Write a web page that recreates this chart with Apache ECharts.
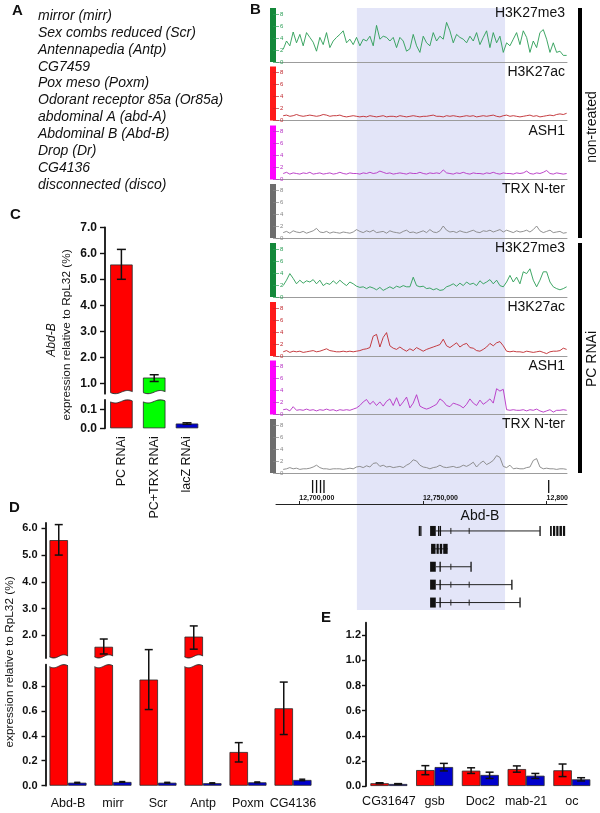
<!DOCTYPE html>
<html><head><meta charset="utf-8">
<script src="https://cdn.jsdelivr.net/npm/echarts@6/dist/echarts.min.js"></script>
<style>html,body{margin:0;padding:0;background:#fff}#c{width:600px;height:813px}</style>
</head><body><div id="c"></div>
<script>
// ---------------- DATA ----------------
const geneList = ['mirror (mirr)','Sex combs reduced (Scr)','Antennapedia (Antp)','CG7459','Pox meso (Poxm)',
  'Odorant receptor 85a (Or85a)','abdominal A (abd-A)','Abdominal B (Abd-B)','Drop (Dr)','CG4136','disconnected (disco)'];

const cCategories = ['PC RNAi','PC+TRX RNAi','lacZ RNAi'];
const cValues  = [5.57, 1.22, 0.025];
const cErrLow  = [5.0, 1.07, 0.021];
const cErrHigh = [6.15, 1.33, 0.029];
const cUpperTicks = [1,2,3,4,5,6,7];
const cLowerTicks = [0, 0.1];

const dCategories = ['Abd-B','mirr','Scr','Antp','Poxm','CG4136'];
const dPcValues   = [5.56, 1.57, 0.85, 1.95, 0.27, 0.62];
const dPcErrLow   = [5.0, 1.30, 0.61, 1.48, 0.19, 0.41];
const dPcErrHigh  = [6.14, 1.86, 1.09, 2.35, 0.345, 0.83];
const dLacZValues = [0.024, 0.03, 0.024, 0.02, 0.027, 0.046];
const dLacZErrLow = [0.021, 0.027, 0.021, 0.017, 0.024, 0.04];
const dLacZErrHigh= [0.027, 0.033, 0.027, 0.023, 0.030, 0.052];
const dUpperTicks = [2,3,4,5,6];
const dLowerTicks = [0,0.2,0.4,0.6,0.8];

const eCategories = ['CG31647','gsb','Doc2','mab-21','oc'];
const ePcValues   = [0.022, 0.127, 0.122, 0.135, 0.125];
const ePcErrLow   = [0.018, 0.09, 0.10, 0.11, 0.075];
const ePcErrHigh  = [0.026, 0.162, 0.145, 0.16, 0.175];
const eLacZValues = [0.016, 0.151, 0.088, 0.082, 0.053];
const eLacZErrLow = [0.013, 0.12, 0.06, 0.06, 0.04];
const eLacZErrHigh= [0.019, 0.18, 0.11, 0.10, 0.066];
const eTicks = [0,0.2,0.4,0.6,0.8,1.0,1.2];

// ChIP tracks (kb coordinates of first / last bin)
const trackBinRange = [12693.5, 12808.1];
const shadedRegion = [12723.3, 12783.2];
const rulerTicks = [12700, 12750, 12800];
const trackNames = ['H3K27me3','H3K27ac','ASH1','TRX N-ter','H3K27me3','H3K27ac','ASH1','TRX N-ter'];
const trackTicks = [0,2,4,6,8];

const ntH3K27me3 = [2.1,3.5,2.7,5.0,3.2,4.6,2.7,4.9,4.1,3.3,1.8,4.1,2.9,4.9,2.4,3.5,4.1,4.6,5.2,3.2,3.8,2.9,4.1,2.7,3.8,3.5,4.3,2.7,6.1,3.8,4.3,4.1,3.5,4.1,2.4,4.1,3.5,1.8,2.2,4.6,2.7,1.6,4.3,3.2,2.7,4.9,3.5,4.3,3.8,6.6,5.2,3.2,4.6,4.1,3.8,3.2,4.3,3.5,4.9,2.9,4.1,5.2,2.4,4.9,3.2,4.3,1.6,3.2,2.7,3.8,4.9,2.9,5.2,4.1,1.6,3.5,2.4,4.9,5.4,3.8,1.6,3.2,1.6,1.8,1.1,1.1];
const ntH3K27ac = [0.8,0.9,0.7,0.8,1.0,0.8,0.7,0.8,0.9,0.8,0.7,0.8,1.0,0.9,0.7,0.8,0.8,0.9,0.7,0.6,0.7,0.8,0.7,0.6,0.7,0.6,0.8,0.7,0.6,0.7,0.8,0.6,0.7,0.7,0.6,0.8,0.7,0.6,0.7,0.8,0.7,0.6,0.7,0.7,0.8,0.9,0.7,0.7,0.6,0.8,0.7,0.8,0.7,0.6,0.7,0.8,0.7,0.8,0.6,0.7,0.8,0.7,0.8,0.9,0.7,0.6,0.8,0.9,0.7,0.8,0.7,0.6,0.7,0.8,0.9,0.7,0.8,0.6,0.7,0.8,0.9,0.8,1.0,1.1,1.0,1.2];
const ntASH1 = [1.0,1.2,0.9,1.1,1.0,0.9,1.1,1.0,1.2,0.9,1.0,1.1,0.9,1.0,1.1,0.9,1.0,1.2,1.0,0.9,1.1,1.0,1.0,0.9,1.1,1.0,1.2,1.0,1.1,1.4,1.2,1.0,1.1,0.9,1.0,1.1,1.0,0.9,1.1,1.0,1.0,1.2,1.0,0.9,1.1,1.0,1.1,1.0,1.6,1.1,1.0,0.9,1.1,1.0,1.2,1.0,0.9,1.1,1.0,1.0,0.9,1.1,1.0,1.2,1.0,0.9,1.1,1.0,1.0,0.9,1.1,1.0,1.1,1.4,1.0,0.9,1.1,1.0,1.2,1.5,1.0,0.9,1.1,1.0,0.9,1.0];
const ntTRX = [0.9,1.1,0.8,1.2,1.0,0.9,1.1,0.8,1.0,1.2,1.6,1.0,0.9,1.1,0.8,1.0,0.9,0.8,1.0,0.9,0.8,1.0,1.4,1.1,0.9,1.2,1.0,1.3,0.9,1.0,1.1,0.8,1.2,1.0,0.9,0.8,1.1,1.3,0.9,1.0,0.8,1.0,1.2,0.9,1.4,1.0,0.9,1.2,2.0,1.3,1.0,1.1,0.9,1.2,1.0,0.9,1.1,1.3,1.0,0.9,1.2,1.1,1.3,1.0,1.2,1.4,1.0,1.3,1.1,0.9,1.2,1.0,1.1,1.3,1.0,1.4,2.0,1.2,0.9,1.1,1.3,0.9,1.0,1.1,0.8,0.9];
const pcH3K27me3 = [1.9,2.8,3.9,3.1,2.2,2.8,2.3,2.7,2.5,2.9,2.2,2.8,1.9,2.3,2.1,2.7,2.2,2.8,2.3,1.9,2.5,2.2,1.8,1.6,1.7,1.4,1.7,1.5,1.2,1.6,1.1,1.4,1.7,1.4,1.8,1.6,1.9,1.7,1.7,3.3,1.9,1.7,1.8,1.4,1.5,1.2,1.4,1.1,1.2,1.7,1.9,2.2,1.8,2.3,1.9,2.5,2.1,2.3,1.9,2.7,2.2,2.5,2.9,2.2,2.8,1.9,1.7,2.5,3.6,2.5,3.3,2.2,4.2,3.9,4.7,2.8,1.7,2.8,4.2,4.2,2.5,1.7,1.4,1.2,1.4,1.7];
const pcH3K27ac = [0.7,0.9,0.6,0.8,0.7,0.8,0.6,0.7,0.8,0.9,0.7,0.8,1.0,1.2,0.9,0.8,0.7,0.7,0.8,0.7,0.8,0.7,0.8,0.9,1.1,1.2,1.4,3.3,3.6,1.5,3.1,3.9,1.7,1.3,1.1,1.5,1.1,0.8,1.2,0.9,1.4,1.1,0.8,1.1,1.3,1.5,1.7,1.9,2.8,1.7,1.4,1.8,2.2,1.5,1.9,2.1,1.4,1.3,0.9,0.8,1.1,1.5,2.1,1.7,2.2,2.4,1.7,0.8,0.7,0.8,0.7,0.7,0.6,0.8,0.7,0.6,0.7,0.8,0.6,0.4,0.7,0.8,0.8,0.9,1.3,1.1];
const pcASH1 = [0.8,0.9,0.6,1.3,0.7,0.8,0.7,0.9,0.7,0.8,0.6,0.8,0.7,0.9,0.7,0.8,0.6,0.8,0.7,0.8,0.7,0.9,1.1,1.5,2.1,2.5,1.7,2.2,1.5,2.1,1.4,2.2,2.6,1.5,2.8,1.4,2.1,2.9,1.1,1.9,3.3,1.4,1.1,0.9,1.1,1.4,1.7,2.6,2.2,1.5,1.3,1.9,1.7,1.5,1.1,1.7,2.6,1.9,1.5,2.4,1.7,2.1,2.6,1.9,4.3,3.9,4.2,0.8,0.7,0.8,0.7,0.7,0.8,0.6,0.8,0.7,0.9,0.6,0.4,0.6,0.8,0.4,0.7,0.7,0.8,0.7];
const pcTRX = [0.6,0.7,0.9,0.7,0.8,0.6,0.7,0.7,0.8,1.0,1.3,0.9,0.7,0.7,0.6,0.7,0.7,0.7,0.6,0.7,0.8,0.7,1.0,1.1,0.9,1.2,1.0,1.6,1.7,1.1,1.3,1.0,1.1,0.9,1.0,1.1,0.9,1.3,1.6,2.2,2.0,1.3,1.0,0.9,0.7,0.9,1.0,1.3,1.0,0.9,1.0,1.1,0.9,1.0,1.3,1.1,1.4,1.8,1.0,1.6,2.0,1.4,1.7,2.1,2.9,2.6,1.1,0.9,1.3,0.7,0.8,0.7,0.7,0.9,1.0,2.1,2.4,1.0,0.7,0.8,0.7,0.7,0.6,0.7,0.7,0.6];
const trackData = [ntH3K27me3, ntH3K27ac, ntASH1, ntTRX, pcH3K27me3, pcH3K27ac, pcASH1, pcTRX];

// gene models (kb)
const otherGeneBars = [12705.4, 12707.0, 12708.6, 12710.0, 12800.85];
const transcriptIntrons = [[12755.2,12797.3],[12753.3,12760.0],[12755.2,12769.4],[12755.2,12785.9],[12755.2,12789.2]];
const transcriptExons = [
  [[12748.3,12748.6],[12748.9,12749.2],[12752.9,12755.2],[12756.1,12756.4],[12756.8,12757.1],[12797.1,12797.5],[12801.4,12802.1],[12802.6,12803.5],[12803.9,12804.8],[12805.2,12806.2],[12806.6,12807.5]],
  [[12753.3,12755.1],[12755.5,12756.4],[12756.8,12757.8],[12758.2,12760.0]],
  [[12752.9,12755.2],[12756.7,12757.1],[12769.2,12769.6]],
  [[12752.9,12755.2],[12756.7,12757.1],[12785.7,12786.1]],
  [[12752.9,12755.2],[12756.7,12757.1],[12789.0,12789.4]]
];
const transcriptTicks = [[12761.3,12768.7],[],[12761.3],[12761.3,12768.7],[12761.3,12768.7]];

// ---------------- LAYOUT / STYLE ----------------
const FONT = '"Liberation Sans", Arial, Helvetica, sans-serif';
const RED = '#ff0000', GREEN = '#00ff00', BLUE = '#0000cc';
const cColors = [RED, GREEN, BLUE];
const AXMIN = 12690.6, AXMAX = 12808.25;
const trackTops = [8, 66.5, 125.5, 184, 243, 302, 360.5, 419];
const trackBarColors  = ['#14883a','#ff1a1a','#ff00ff','#6e6e6e','#14883a','#ff1a1a','#ff00ff','#6e6e6e'];
const trackLineColors = ['#2a9d55','#c0282d','#b531c4','#858585','#2a9d55','#c0282d','#b531c4','#858585'];

const grids = [], xAxes = [], yAxes = [], series = [], graphic = [];
function addGrid(g){ g.outerBoundsMode = 'none'; g.containLabel = false; grids.push(g); return grids.length - 1; }

function valueY(gi, min, max, ticks, fs, margin, tickLen){
  return {type:'value', gridIndex:gi, min, max,
    axisLine:{show:true, onZero:false, lineStyle:{color:'#111', width:1.8}},
    axisTick:{show:true, length:tickLen, lineStyle:{color:'#111', width:1.4}, customValues:ticks},
    axisLabel:{show:true, customValues:ticks, formatter:v=>v.toFixed(1), fontSize:fs, fontWeight:'bold', color:'#111', fontFamily:FONT, margin},
    splitLine:{show:false}};
}
function catX(gi, cats, label){
  return {type:'category', gridIndex:gi, data:cats, axisLine:{show:false}, axisTick:{show:false},
    axisLabel: label || {show:false}, splitLine:{show:false}};
}
function barS(gi, vals, color, bw, min, perItem){
  return {type:'bar', xAxisIndex:gi, yAxisIndex:gi, barWidth:bw, barGap:'0%', clip:true, silent:true, z:2,
    data: vals.map((v,i)=> v > min ? (perItem ? {value:v, itemStyle:{color:perItem[i]}} : v) : null),
    itemStyle:{color, borderColor:'#2a2a2a', borderWidth:0.8}};
}
function errS(gi, lo, hi, offset, ymin, ymax, cw){
  return {type:'custom', xAxisIndex:gi, yAxisIndex:gi, clip:false, silent:true, z:5,
    data: lo.map((l,i)=>[i, l, hi[i]]),
    renderItem(params, api){
      const l = api.value(1), h = api.value(2);
      if (h < ymin || l > ymax) return null;
      const p1 = api.coord([api.value(0), l]), p2 = api.coord([api.value(0), h]);
      const x = p1[0] + offset;
      const st = {stroke:'#111', lineWidth:1.5};
      return {type:'group', children:[
        {type:'line', shape:{x1:x,y1:p1[1],x2:x,y2:p2[1]}, style:st},
        {type:'line', shape:{x1:x-cw,y1:p1[1],x2:x+cw,y2:p1[1]}, style:st},
        {type:'line', shape:{x1:x-cw,y1:p2[1],x2:x+cw,y2:p2[1]}, style:st}]};
    }};
}
function waveS(gi, vals, offset, bw, ymax, gapPx){
  return {type:'custom', xAxisIndex:gi, yAxisIndex:gi, clip:false, silent:true, z:4,
    data: vals.map((v,i)=>[i, v]),
    renderItem(params, api){
      const v = api.value(1);
      if (v <= ymax) return null;
      const c = api.coord([api.value(0), ymax]);
      const x0 = c[0] + offset - bw/2 - 1, x1 = c[0] + offset + bw/2 + 1;
      const yTop = c[1], yUB = yTop - gapPx;
      const up = [], lo = [];
      for (let k = 0; k <= 20; k++){
        const t = k/20, s = Math.sin(2*Math.PI*t);
        up.push([x0 + (x1-x0)*t, yUB - 1.6 + 1.6*s]);
        lo.push([x0 + (x1-x0)*t, yTop + 1.6 + 1.6*s]);
      }
      const inner = pts => pts.filter(p => p[0] >= x0+1 && p[0] <= x1-1);
      return {type:'group', children:[
        {type:'polygon', shape:{points: up.concat(lo.slice().reverse())}, style:{fill:'#fff'}},
        {type:'polyline', shape:{points: inner(up)}, style:{stroke:'#2a2a2a', lineWidth:0.9, fill:null}},
        {type:'polyline', shape:{points: inner(lo)}, style:{stroke:'#2a2a2a', lineWidth:0.9, fill:null}}]};
    }};
}
function txt(text, x, y, o){
  return Object.assign({type:'text', x, y, z:100, silent:true,
    style:Object.assign({text, fill:'#111', fontFamily:FONT, fontSize:14, align:'left', verticalAlign:'middle'}, (o&&o.style)||{})},
    o && o.rotation ? {rotation:o.rotation} : {});
}

// ---------- Panel C ----------
const C_UMIN = 0.6, C_UMAX = 7.0, C_LMAX = 0.15;
let g = addGrid({left:105, width:98.4, top:227.3, height:166.4});
xAxes.push(catX(g, cCategories)); yAxes.push(valueY(g, C_UMIN, C_UMAX, cUpperTicks, 12, 8, 5));
series.push(barS(g, cValues, RED, 22.5, C_UMIN, cColors));
series.push(errS(g, cErrLow, cErrHigh, 0, C_UMIN, C_UMAX, 4.5));
g = addGrid({left:105, width:98.4, top:399.8, height:28.5});
xAxes.push(catX(g, cCategories, {show:true, interval:0, rotate:90, fontSize:12.5, color:'#111', margin:8, fontFamily:FONT}));
yAxes.push(valueY(g, 0, C_LMAX, cLowerTicks, 12, 8, 5));
series.push(barS(g, cValues, RED, 22.5, -1, cColors));
series.push(errS(g, cErrLow, cErrHigh, 0, 0, C_LMAX, 4.5));
series.push(waveS(g, cValues, 0, 22.5, C_LMAX, 6.1));

// ---------- Panel D ----------
const D_UMIN = 1.15, D_UMAX = 6.2, D_LMAX = 0.97;
g = addGrid({left:45.5, width:270, top:523, height:135});
xAxes.push(catX(g, dCategories)); yAxes.push(valueY(g, D_UMIN, D_UMAX, dUpperTicks, 11, 8, 4));
series.push(barS(g, dPcValues, RED, 18.5, D_UMIN));
series.push(barS(g, dLacZValues, BLUE, 18.5, D_UMIN));
series.push(errS(g, dPcErrLow, dPcErrHigh, -9.25, D_UMIN, D_UMAX, 4));
series.push(errS(g, dLacZErrLow, dLacZErrHigh, 9.25, D_UMIN, D_UMAX, 4));
g = addGrid({left:45.5, width:270, top:664.6, height:121.1});
xAxes.push(catX(g, dCategories, {show:true, interval:0, fontSize:12.5, color:'#111', margin:11, fontFamily:FONT}));
yAxes.push(valueY(g, 0, D_LMAX, dLowerTicks, 11, 8, 4));
series.push(barS(g, dPcValues, RED, 18.5, -1));
series.push(barS(g, dLacZValues, BLUE, 18.5, -1));
series.push(errS(g, dPcErrLow, dPcErrHigh, -9.25, 0, D_LMAX, 4));
series.push(errS(g, dLacZErrLow, dLacZErrHigh, 9.25, 0, D_LMAX, 3));
series.push(waveS(g, dPcValues, -9.25, 18.5, D_LMAX, 6.6));

// ---------- Panel E ----------
g = addGrid({left:366, width:228.7, top:622.7, height:163.3});
xAxes.push(catX(g, eCategories, {show:true, interval:0, fontSize:12.5, color:'#111', margin:9, fontFamily:FONT}));
yAxes.push(valueY(g, 0, 1.3, eTicks, 11, 5, 4));
series.push(barS(g, ePcValues, RED, 18.5, -1));
series.push(barS(g, eLacZValues, BLUE, 18.5, -1));
series.push(errS(g, ePcErrLow, ePcErrHigh, -9.25, 0, 1.3, 4));
series.push(errS(g, eLacZErrLow, eLacZErrHigh, 9.25, 0, 1.3, 4));

// ---------- Panel B ----------
function hiddenX(gi){ return {type:'value', gridIndex:gi, min:AXMIN, max:AXMAX, show:false, splitLine:{show:false}}; }
function hiddenY(gi, min, max, inverse){ return {type:'value', gridIndex:gi, min, max, inverse:!!inverse, show:false, splitLine:{show:false}}; }

// shading
g = addGrid({left:276, width:291, top:8, height:602});
xAxes.push(hiddenX(g)); yAxes.push(hiddenY(g, 0, 1));
series.push({type:'custom', xAxisIndex:g, yAxisIndex:g, silent:true, z:0, clip:false,
  data:[[shadedRegion[0], shadedRegion[1]]],
  renderItem(params, api){
    const a = api.coord([api.value(0), 1]), b = api.coord([api.value(1), 0]);
    return {type:'rect', shape:{x:a[0], y:a[1], width:b[0]-a[0], height:b[1]-a[1]}, style:{fill:'#e3e5f8'}};
  }});

// tracks
trackData.forEach((arr, k) => {
  const gi = addGrid({left:276, width:291, top:trackTops[k], height:54});
  xAxes.push({type:'value', gridIndex:gi, min:AXMIN, max:AXMAX,
    axisLine:{show:true, onZero:false, lineStyle:{color:'#9c9c9c', width:1}}, axisTick:{show:false}, axisLabel:{show:false}, splitLine:{show:false}});
  yAxes.push({type:'value', gridIndex:gi, min:0, max:9, offset:3,
    axisLine:{show:true, onZero:false, lineStyle:{color:trackBarColors[k], width:6, cap:'butt'}},
    axisTick:{show:true, inside:true, length:6, customValues:trackTicks, lineStyle:{color:trackLineColors[k], width:0.7}},
    axisLabel:{show:true, inside:true, margin:7, fontSize:6, color:trackLineColors[k], customValues:trackTicks, formatter:v=>String(v), fontFamily:FONT},
    splitLine:{show:false}});
  const n = arr.length, s = trackBinRange[0], e = trackBinRange[1];
  series.push({type:'line', xAxisIndex:gi, yAxisIndex:gi, silent:true, z:3, showSymbol:false, symbol:'none',
    lineStyle:{color:trackLineColors[k], width:0.9}, data: arr.map((v,i)=>[s + i*(e-s)/(n-1), v])});
  graphic.push(txt(trackNames[k], 565, trackTops[k] + 5.5, {style:{align:'right', fontSize:14}}));
});

// other genes above ruler
g = addGrid({left:276, width:291, top:480, height:13});
xAxes.push(hiddenX(g)); yAxes.push(hiddenY(g, 0, 1));
series.push({type:'custom', xAxisIndex:g, yAxisIndex:g, silent:true, clip:false, z:3,
  data: otherGeneBars.map(v=>[v, 0]),
  renderItem(params, api){
    const a = api.coord([api.value(0), 0]), b = api.coord([api.value(0), 1]);
    return {type:'line', shape:{x1:a[0], y1:a[1], x2:a[0], y2:b[1]}, style:{stroke:'#111', lineWidth:1.3}};
  }});

// ruler
g = addGrid({left:276, width:291, top:504, height:1});
xAxes.push({type:'value', gridIndex:g, min:AXMIN, max:AXMAX, position:'top',
  axisLine:{show:true, onZero:false, lineStyle:{color:'#222', width:1}},
  axisTick:{show:true, length:3, customValues:rulerTicks, lineStyle:{color:'#222'}},
  axisLabel:{show:true, customValues:rulerTicks, align:'left', margin:2, fontSize:7, fontWeight:'bold', color:'#111', fontFamily:FONT,
    formatter:v=> v >= 12800 ? '12,800' : String(Math.round(v*1000)).replace(/\B(?=(\d{3})+(?!\d))/g, ',')},
  splitLine:{show:false}});
yAxes.push(hiddenY(g, 0, 1));

// gene model
g = addGrid({left:276, width:291, top:522, height:89.5});
xAxes.push(hiddenX(g)); yAxes.push(hiddenY(g, 0, 5, true));
series.push({type:'custom', xAxisIndex:g, yAxisIndex:g, silent:true, clip:false, z:3,
  data: transcriptIntrons.map((t,i)=>[t[0], i]),
  renderItem(params, api){
    const r = api.value(1);
    const y = api.coord([AXMIN, r + 0.5])[1];
    const X = v => api.coord([v, r])[0];
    const ch = [];
    const it = transcriptIntrons[r];
    ch.push({type:'line', shape:{x1:X(it[0]), y1:y, x2:X(it[1]), y2:y}, style:{stroke:'#222', lineWidth:1}});
    transcriptExons[r].forEach(ex => {
      const x0 = X(ex[0]), x1 = X(ex[1]);
      ch.push({type:'rect', shape:{x:x0, y:y-5, width:Math.max(1.3, x1-x0), height:10}, style:{fill:'#111'}});
    });
    transcriptTicks[r].forEach(t => {
      const x = X(t);
      ch.push({type:'line', shape:{x1:x, y1:y-3, x2:x, y2:y+3}, style:{stroke:'#222', lineWidth:1}});
    });
    return {type:'group', children:ch};
  }});

// ---------- graphic annotations ----------
graphic.push(txt('A', 12, 11, {style:{fontWeight:'bold', fontSize:15}}));
graphic.push(txt('B', 250, 10, {style:{fontWeight:'bold', fontSize:15}}));
graphic.push(txt('C', 10, 215, {style:{fontWeight:'bold', fontSize:15}}));
graphic.push(txt('D', 9, 508, {style:{fontWeight:'bold', fontSize:15}}));
graphic.push(txt('E', 321, 618, {style:{fontWeight:'bold', fontSize:15}}));
graphic.push({type:'text', x:38, y:7.5, z:100, silent:true,
  style:{text:geneList.join('\n'), fill:'#111', fontFamily:FONT, fontSize:14, fontStyle:'italic', lineHeight:16.9, align:'left', verticalAlign:'top'}});
graphic.push(txt('Abd-B', 51.7, 340, {rotation:Math.PI/2, style:{align:'center', fontStyle:'italic', fontSize:12}}));
graphic.push(txt('expression relative to RpL32 (%)', 67, 335, {rotation:Math.PI/2, style:{align:'center', fontSize:11.8}}));
graphic.push(txt('expression relative to RpL32 (%)', 10, 662, {rotation:Math.PI/2, style:{align:'center', fontSize:11.8}}));
graphic.push(txt('Abd-B', 480, 516, {style:{align:'center', fontSize:14}}));
graphic.push({type:'rect', z:100, silent:true, shape:{x:578, y:8, width:4, height:230}, style:{fill:'#000'}});
graphic.push({type:'rect', z:100, silent:true, shape:{x:578, y:243, width:4, height:230}, style:{fill:'#000'}});
graphic.push(txt('non-treated', 592, 127, {rotation:Math.PI/2, style:{align:'center', fontSize:14}}));
graphic.push(txt('PC RNAi', 592, 359, {rotation:Math.PI/2, style:{align:'center', fontSize:14}}));

const chart = echarts.init(document.getElementById('c'), null, {renderer:'canvas', width:600, height:813});
chart.setOption({animation:false, backgroundColor:'#fff', textStyle:{fontFamily:FONT},
  grid:grids, xAxis:xAxes, yAxis:yAxes, series, graphic:{elements:graphic}});
</script>
</body></html>
